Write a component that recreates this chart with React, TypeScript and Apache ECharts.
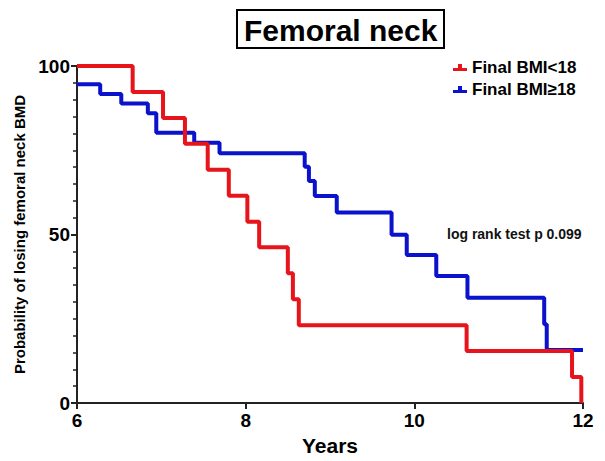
import React, { useEffect, useRef } from "react";
import * as echarts from "echarts";

const redName = "Final BMI<18";
const blueName = "Final BMI≥18";
const redTimes = [6, 6.66, 7.02, 7.28, 7.55, 7.8, 8.02, 8.16, 8.5, 8.56, 8.63, 10.62, 11.87, 11.98];
const redSurvival = [100, 92.3, 84.6, 76.9, 69.2, 61.5, 53.8, 46.2, 38.5, 30.8, 23.1, 15.4, 7.7, 0];
const blueTimes = [6, 6.275, 6.525, 6.84, 6.94, 7.39, 7.69, 8.7, 8.75, 8.82, 9.08, 9.73, 9.91, 10.26, 10.63, 11.54, 11.57, 12];
const blueSurvival = [94.6, 91.7, 88.9, 86.0, 80.2, 77.2, 74.1, 70.1, 65.9, 61.4, 56.5, 49.9, 43.9, 37.7, 31.2, 23.4, 15.7, 15.7];
const xTicks = { min: 6, max: 12, interval: 2 };
const yTicks = { min: 0, max: 100, interval: 50 };
const titleText = "Femoral neck";
const annotation = "log rank test p 0.099";

const FONT = "'Liberation Sans', Arial, sans-serif";
const RED = "#e8141c";
const BLUE = "#0a12cc";
const AXIS = "#222";

export default function App() {
  const ref = useRef<HTMLDivElement>(null);
  useEffect(() => {
    if (!ref.current) return;
    const chart = echarts.init(ref.current, undefined, { renderer: "svg" });
    const redData = redTimes.map((t, i) => [t, redSurvival[i]]);
    const blueData = blueTimes.map((t, i) => [t, blueSurvival[i]]);
    const icon = "path://M0,4 L5,4 L5,0 L9,0 L9,4 L14,4 L14,7 L0,7 Z";
    chart.setOption({
      animation: false,
      backgroundColor: "#fff",
      title: {
        text: titleText,
        left: 237,
        top: 10,
        padding: [5, 7, 3, 7],
        borderColor: "#000",
        borderWidth: 2,
        textStyle: { fontFamily: FONT, fontSize: 30, fontWeight: "bold", color: "#000" },
      },
      legend: {
        orient: "vertical",
        left: 448,
        top: 54,
        itemGap: 5,
        itemWidth: 14,
        itemHeight: 7,
        icon,
        data: [redName, blueName],
        textStyle: { fontFamily: FONT, fontSize: 17, fontWeight: "bold", color: "#000" },
      },
      grid: { left: 77, right: 22, top: 66, bottom: 58, containLabel: false },
      xAxis: {
        type: "value",
        min: xTicks.min,
        max: xTicks.max,
        interval: xTicks.interval,
        name: "Years",
        nameLocation: "middle",
        nameGap: 30,
        nameTextStyle: { fontFamily: FONT, fontSize: 21, fontWeight: "bold", color: "#000" },
        axisLine: { lineStyle: { color: AXIS, width: 2 } },
        axisTick: { length: 6, lineStyle: { color: AXIS, width: 2 } },
        axisLabel: { margin: 8, fontFamily: FONT, fontSize: 19, fontWeight: "bold", color: "#000" },
        splitLine: { show: false },
      },
      yAxis: {
        type: "value",
        min: yTicks.min,
        max: yTicks.max,
        interval: yTicks.interval,
        name: "Probability of losing femoral neck BMD",
        nameLocation: "middle",
        nameRotate: 90,
        nameGap: 48,
        nameTextStyle: { fontFamily: FONT, fontSize: 15, fontWeight: "bold", color: "#000" },
        axisLine: { show: true, lineStyle: { color: AXIS, width: 2 } },
        axisTick: { show: true, length: 6, lineStyle: { color: AXIS, width: 2 } },
        minorTick: { show: true, splitNumber: 10, length: 4, lineStyle: { color: AXIS, width: 1.5 } },
        axisLabel: { margin: 7, fontFamily: FONT, fontSize: 19, fontWeight: "bold", color: "#000" },
        splitLine: { show: false },
      },
      graphic: [
        {
          type: "text",
          left: 447,
          top: 227,
          style: { text: annotation, font: `bold 14px ${FONT}`, fill: "#111" },
        },
      ],
      series: [
        {
          name: blueName,
          type: "line",
          step: "end",
          data: blueData,
          symbol: "none",
          color: BLUE,
          lineStyle: { color: BLUE, width: 4 },
        },
        {
          name: redName,
          type: "line",
          step: "end",
          data: redData,
          symbol: "none",
          color: RED,
          lineStyle: { color: RED, width: 4 },
        },
      ],
    });
    return () => chart.dispose();
  }, []);
  return <div ref={ref} style={{ position: "absolute", left: 0, top: 0, width: 605, height: 461 }} />;
}
